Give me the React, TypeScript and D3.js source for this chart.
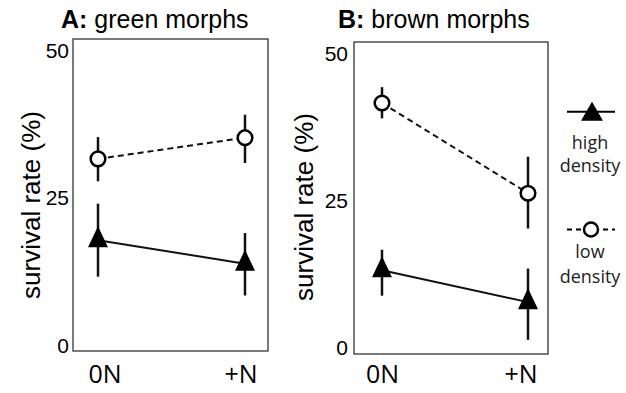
import React from "react";
import * as d3 from "d3";

const categories = ["0N", "+N"];
const yTicks = [0, 25, 50];

// Panel A: green morphs
const aHigh = [17.8, 13.8];
const aHighLo = [11.6, 8.4];
const aHighHi = [24.0, 19.0];
const aLow = [31.6, 35.2];
const aLowLo = [27.8, 30.9];
const aLowHi = [35.3, 39.1];

// Panel B: brown morphs
const bHigh = [13.1, 7.7];
const bHighLo = [8.8, 1.3];
const bHighHi = [16.6, 13.4];
const bLow = [41.5, 26.2];
const bLowLo = [38.9, 20.2];
const bLowHi = [44.2, 32.4];

const FONT = "'Liberation Sans', Arial, Helvetica, sans-serif";
const LFONT = "'Open Sans', 'Noto Sans', sans-serif";

type Series = { v: number[]; lo: number[]; hi: number[] };

function triPath(w: number, h: number): string {
  // centroid-centred triangle, apex up
  const p = d3.path();
  p.moveTo(0, (-2 * h) / 3);
  p.lineTo(w / 2, h / 3);
  p.lineTo(-w / 2, h / 3);
  p.closePath();
  return p.toString();
}

function Panel(props: {
  letter: string;
  name: string;
  titleX: number;
  box: [number, number, number, number];
  xr: [number, number];
  lr: [number, number];
  yr: [number, number];
  labelX: number;
  labelY: number;
  tickX: number;
  high: Series;
  low: Series;
}) {
  const { box, high, low } = props;
  const x = d3.scalePoint<string>().domain(categories).range(props.xr);
  const xl = d3.scalePoint<string>().domain(categories).range(props.lr);
  const y = d3.scaleLinear().domain([0, 50]).range(props.yr);
  const line = d3
    .line<number>()
    .x((_, i) => x(categories[i]) as number)
    .y((d) => y(d));
  const tri = triPath(20, 21);
  return (
    <g>
      <text x={props.titleX} y={28} fontFamily={FONT} fontSize={25} fill="#000">
        <tspan fontWeight="bold">{props.letter}</tspan>
        <tspan> {props.name}</tspan>
      </text>
      <rect
        x={box[0]}
        y={box[1]}
        width={box[2] - box[0]}
        height={box[3] - box[1]}
        fill="none"
        stroke="#333"
        strokeWidth={1.3}
      />
      {yTicks.map((t) => (
        <text
          key={t}
          x={props.tickX}
          y={y(t)}
          textAnchor="end"
          dominantBaseline="central"
          fontFamily={FONT}
          fontSize={21}
          fill="#000"
        >
          {t}
        </text>
      ))}
      <text
        transform={`translate(${props.labelX},${props.labelY}) rotate(-90)`}
        textAnchor="middle"
        dominantBaseline="central"
        fontFamily={FONT}
        fontSize={26}
        fill="#000"
      >
        survival rate (%)
      </text>
      {categories.map((c) => (
        <text
          key={c}
          x={xl(c)}
          y={383}
          textAnchor="middle"
          fontFamily={LFONT}
          fontSize={25}
          fill="#000"
        >
          {c}
        </text>
      ))}
      {[high, low].map((s, si) =>
        categories.map((c, i) => (
          <line
            key={`e${si}${i}`}
            x1={x(c)}
            x2={x(c)}
            y1={y(s.lo[i])}
            y2={y(s.hi[i])}
            stroke="#111"
            strokeWidth={2.5}
          />
        ))
      )}
      <path d={line(high.v) as string} fill="none" stroke="#111" strokeWidth={2} />
      <path
        d={line(low.v) as string}
        fill="none"
        stroke="#111"
        strokeWidth={2}
        strokeDasharray="6,4"
      />
      {categories.map((c, i) => (
        <path
          key={`t${i}`}
          d={tri}
          transform={`translate(${x(c)},${y(high.v[i])})`}
          fill="#000"
        />
      ))}
      {categories.map((c, i) => (
        <circle
          key={`c${i}`}
          cx={x(c)}
          cy={y(low.v[i])}
          r={7.3}
          fill="#fff"
          stroke="#000"
          strokeWidth={2.5}
        />
      ))}
    </g>
  );
}

export default function App() {
  const ltri = triPath(22, 19);
  return (
    <svg width={626} height={393} style={{ position: "absolute", left: 0, top: 0 }}>
      <rect width={626} height={393} fill="#fff" />
      <Panel
        letter="A:"
        name="green morphs"
        titleX={61}
        box={[73, 39, 268, 351]}
        xr={[98, 245]}
        lr={[105, 241]}
        yr={[345, 50.5]}
        labelX={31}
        labelY={205}
        tickX={69}
        high={{ v: aHigh, lo: aHighLo, hi: aHighHi }}
        low={{ v: aLow, lo: aLowLo, hi: aLowHi }}
      />
      <Panel
        letter="B:"
        name="brown morphs"
        titleX={338}
        box={[354, 42, 548, 354]}
        xr={[382, 528]}
        lr={[382.5, 521]}
        yr={[347.5, 53]}
        labelX={304}
        labelY={207}
        tickX={348}
        high={{ v: bHigh, lo: bHighLo, hi: bHighHi }}
        low={{ v: bLow, lo: bLowLo, hi: bLowHi }}
      />
      <g>
        <line x1={567} x2={615} y1={111.7} y2={111.7} stroke="#000" strokeWidth={2} />
        <path d={ltri} transform="translate(592,114.5)" fill="#000" />
        <text x={590} y={149} textAnchor="middle" fontFamily={LFONT} fontSize={18} fill="#222">
          high
        </text>
        <text x={590} y={172} textAnchor="middle" fontFamily={LFONT} fontSize={18} fill="#222">
          density
        </text>
        <line
          x1={567}
          x2={615}
          y1={229.5}
          y2={229.5}
          stroke="#000"
          strokeWidth={2}
          strokeDasharray="5,4"
        />
        <circle cx={591} cy={229.5} r={7} fill="#fff" stroke="#000" strokeWidth={2.5} />
        <text x={590} y={258} textAnchor="middle" fontFamily={LFONT} fontSize={18} fill="#222">
          low
        </text>
        <text x={590} y={283} textAnchor="middle" fontFamily={LFONT} fontSize={18} fill="#222">
          density
        </text>
      </g>
    </svg>
  );
}
